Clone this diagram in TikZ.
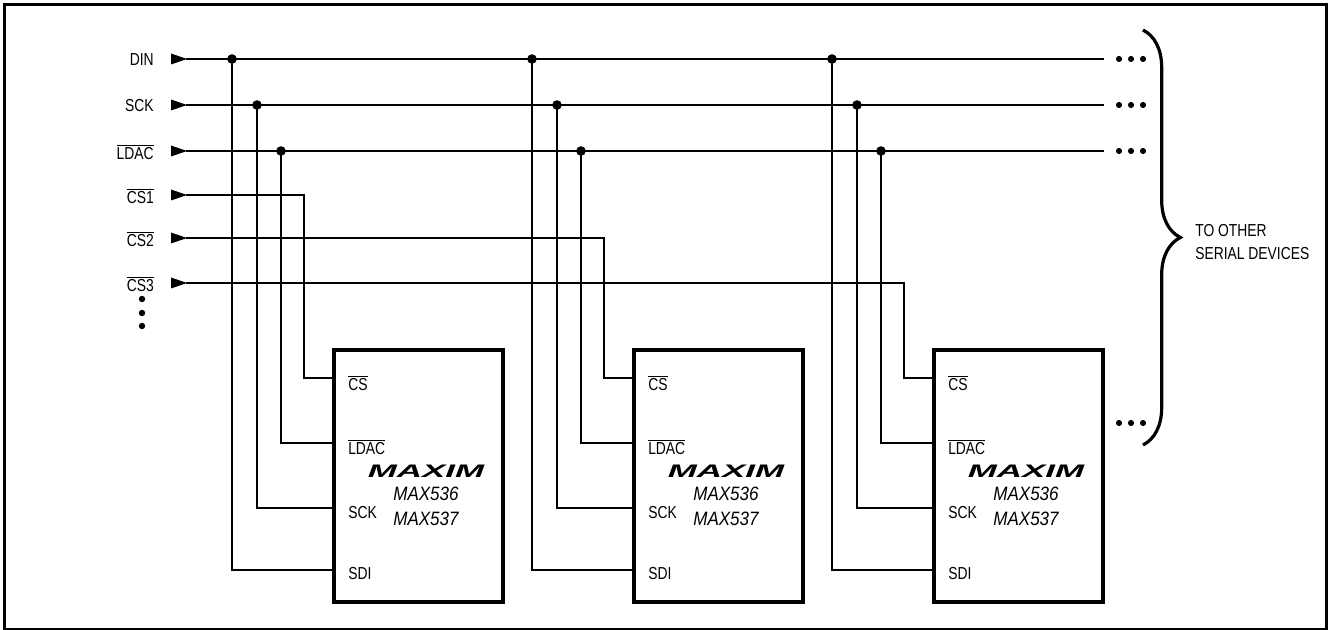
\documentclass[tikz,border=0pt]{standalone}
\usepackage{fontspec}
\setmainfont[FakeStretch=0.8]{Liberation Sans}
\newfontfamily\partfont[FakeStretch=0.88]{Liberation Sans}
\usetikzlibrary{decorations.pathreplacing,positioning,calc}

\begin{document}
\begin{tikzpicture}[x=0.75pt,y=-0.75pt,
    font=\fontsize{13}{17}\selectfont,
    wire/.style={line width=1.1pt},
    chipbox/.style={draw, line width=2.5pt, minimum width=126.75pt, minimum height=189pt},
    pinlbl/.style={anchor=west, inner sep=0pt}]
    \useasboundingbox (0,0) rectangle (1328,630);
    \draw[line width=1.6pt] (4.5,4.5) rectangle (1326.5,629);

    % Inputs with arrow heads
    \foreach \n/\t/\y in {din/DIN/59, sck/SCK/105, ldac/{$\overline{\hbox{LDAC}}$}/151,
        cs1/{$\overline{\hbox{CS1}}$}/195, cs2/{$\overline{\hbox{CS2}}$}/238, cs3/{$\overline{\hbox{CS3}}$}/283}{
        \node[anchor=east, inner sep=0pt] (l-\n) at (154,\y+1) {\t};
        \fill (171,\y-5.5) -- (187,\y) -- (171,\y+5.5) -- cycle;
        \coordinate (s-\n) at (186,\y);
    }
    \foreach \y in {299,313,326} \fill (142,\y) circle (2.4pt);

    % Shared bus lines
    \foreach \n/\y in {din/59, sck/105, ldac/151}{
        \coordinate (e-\n) at (1104,\y);
        \draw[wire] (s-\n) -- (e-\n);
        \foreach \x in {1119,1131,1143} \fill (\x,\y) circle (2.3pt);
    }
    \foreach \x in {1119,1131,1143} \fill (\x,423) circle (2.3pt);

    % Three DACs
    \foreach \k/\o in {1/0, 2/300, 3/600}{
        \node[chipbox] (chip\k) at (418.5+\o,476) {};
        \coordinate (c\k-cs) at (334+\o,378);
        \coordinate (c\k-ldac) at (334+\o,443);
        \coordinate (c\k-sck) at (334+\o,508);
        \coordinate (c\k-sdi) at (334+\o,570);
        \coordinate (d\k) at (232+\o,59);
        \coordinate (k\k) at (257+\o,105);
        \coordinate (a\k) at (281+\o,151);
        \coordinate (x\k) at (304+\o,378);
        \draw[wire] (d\k) |- (c\k-sdi);
        \draw[wire] (k\k) |- (c\k-sck);
        \draw[wire] (a\k) |- (c\k-ldac);
        \draw[wire] (s-cs\k) -| (x\k) -- (c\k-cs);
        \foreach \j in {d\k,k\k,a\k} \fill (\j) circle (3.6pt);
        \node[pinlbl] (p\k-cs) at (348+\o,383) {$\overline{\hbox{CS}}$};
        \node[pinlbl] (p\k-ldac) at (348+\o,447) {$\overline{\hbox{LDAC}}$};
        \node[pinlbl] (p\k-sck) at (348+\o,513) {SCK};
        \node[pinlbl] (p\k-sdi) at (348+\o,574) {SDI};
        \node (logo\k) at (426+\o,471) {\partfont\fontsize{17}{17}\selectfont\bfseries\itshape\scalebox{1.75}[0.8]{MAXIM}};
        \node (m\k a) at (426+\o,494) {\partfont\fontsize{14.5}{15}\selectfont\itshape MAX536};
        \node (m\k b) at (426+\o,519) {\partfont\fontsize{14.5}{15}\selectfont\itshape MAX537};
    }

    % Brace to other devices
    \draw[decorate, decoration={brace, amplitude=28pt}, line width=2.4pt] (1143,30) -- (1143,445);
    \node[anchor=west, align=left, inner sep=0pt] (other) at (1195,242) {TO OTHER\\SERIAL DEVICES};
\end{tikzpicture}
\end{document}
